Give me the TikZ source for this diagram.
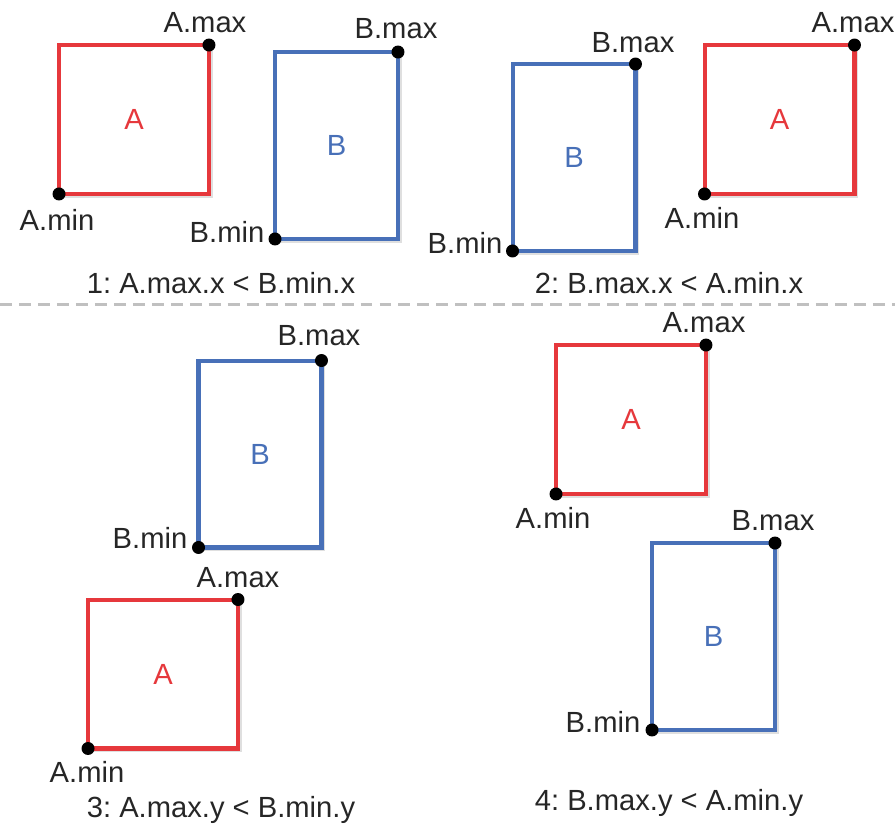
\documentclass[tikz,border=0pt]{standalone}
\usepackage{fontspec}
\setmainfont{Liberation Sans}
\usepackage{tikz}
\usetikzlibrary{shadows}
\frenchspacing

\definecolor{boxred}{RGB}{230,56,60}
\definecolor{boxblue}{RGB}{72,112,184}
\definecolor{sepgray}{RGB}{192,192,192}

\tikzset{
  boxA/.style={draw=boxred, line width=2.3pt, fill=white, text=boxred,
    minimum width=3cm, minimum height=2.98cm, inner sep=0pt, outer sep=0pt,
    drop shadow={shadow xshift=2pt, shadow yshift=-2pt, opacity=0.25}},
  boxB/.style={draw=boxblue, line width=2.3pt, fill=white, text=boxblue,
    minimum width=2.46cm, minimum height=3.74cm, inner sep=0pt, outer sep=0pt,
    drop shadow={shadow xshift=2pt, shadow yshift=-2pt, opacity=0.25}},
  dot/.style={circle, fill=black, minimum size=0.26cm, inner sep=0pt},
  lbl/.style={anchor=base},
  sepline/.style={draw=sepgray, line width=1.7pt, dash pattern=on 6.8pt off 4pt}
}

\begin{document}
\begin{tikzpicture}[x=0.02cm, y=-0.02cm,
    every node/.style={font=\fontsize{16.6}{20}\selectfont, text=black!85}]
  \useasboundingbox (0,0) rectangle (895,825);

  % 1: A left of B
  \node[boxA] (a1) at (134,119.5) {A};
  \node[boxB] (b1) at (336.5,145.5) {B};
  \node[dot] (a1max) at (a1.north east) {};
  \node[dot] (a1min) at (a1.south west) {};
  \node[dot] (b1max) at (b1.north east) {};
  \node[dot] (b1min) at (b1.south west) {};
  \node[lbl] (a1maxl) at (205,32) {A.max};
  \node[lbl] (a1minl) at (57,230) {A.min};
  \node[lbl] (b1maxl) at (396,38) {B.max};
  \node[lbl] (b1minl) at (227,242) {B.min};
  \node[lbl] (cap1) at (221,293) {1: A.max.x < B.min.x};

  % 2: B left of A
  \node[boxB] (b2) at (574,157.5) {B};
  \node[boxA] (a2) at (779.5,119.5) {A};
  \node[dot] (b2max) at (b2.north east) {};
  \node[dot] (b2min) at (b2.south west) {};
  \node[dot] (a2max) at (a2.north east) {};
  \node[dot] (a2min) at (a2.south west) {};
  \node[lbl] (b2maxl) at (633,52) {B.max};
  \node[lbl] (b2minl) at (465,253) {B.min};
  \node[lbl] (a2maxl) at (853,32) {A.max};
  \node[lbl] (a2minl) at (702,228) {A.min};
  \node[lbl] (cap2) at (669,293) {2: B.max.x < A.min.x};

  \coordinate (sepL) at (0,304);
  \coordinate (sepR) at (895,304);
  \draw[sepline] (sepL) -- (sepR);

  % 3: A below B
  \node[boxB] (b3) at (260,454) {B};
  \node[boxA] (a3) at (163,674) {A};
  \node[dot] (b3max) at (b3.north east) {};
  \node[dot] (b3min) at (b3.south west) {};
  \node[dot] (a3max) at (a3.north east) {};
  \node[dot] (a3min) at (a3.south west) {};
  \node[lbl] (b3maxl) at (319,345) {B.max};
  \node[lbl] (b3minl) at (150,548) {B.min};
  \node[lbl] (a3maxl) at (238,587) {A.max};
  \node[lbl] (a3minl) at (87,782) {A.min};
  \node[lbl] (cap3) at (221,817) {3: A.max.y < B.min.y};

  % 4: B below A
  \node[boxA] (a4) at (631,419.5) {A};
  \node[boxB] (b4) at (713.5,636.5) {B};
  \node[dot] (a4max) at (a4.north east) {};
  \node[dot] (a4min) at (a4.south west) {};
  \node[dot] (b4max) at (b4.north east) {};
  \node[dot] (b4min) at (b4.south west) {};
  \node[lbl] (a4maxl) at (704,332) {A.max};
  \node[lbl] (a4minl) at (553,528) {A.min};
  \node[lbl] (b4maxl) at (773,530) {B.max};
  \node[lbl] (b4minl) at (603,732) {B.min};
  \node[lbl] (cap4) at (669,810) {4: B.max.y < A.min.y};
\end{tikzpicture}
\end{document}
